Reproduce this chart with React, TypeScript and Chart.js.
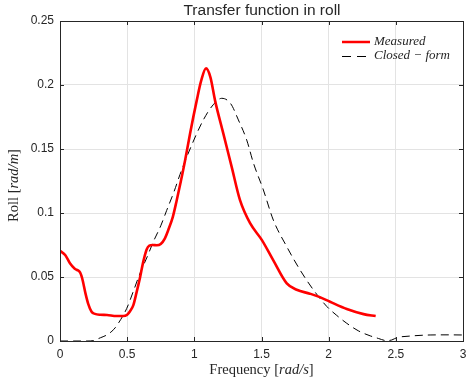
import React, { useEffect, useRef } from "react";
import { Chart, registerables } from "chart.js";

Chart.register(...registerables);

const measuredX = [0, 0.04, 0.074, 0.11, 0.136, 0.15, 0.165, 0.19, 0.21, 0.235, 0.26, 0.3, 0.35, 0.42, 0.47, 0.5, 0.52, 0.546, 0.57, 0.596, 0.62, 0.645, 0.665, 0.69, 0.72, 0.75, 0.78, 0.806, 0.84, 0.869, 0.9, 0.931, 0.968, 1.018, 1.05, 1.087, 1.12, 1.154, 1.216, 1.278, 1.34, 1.415, 1.502, 1.588, 1.688, 1.762, 1.86, 1.93, 2.01, 2.135, 2.26, 2.35];
const measuredY = [0.0705, 0.067, 0.0607, 0.0565, 0.055, 0.0535, 0.049, 0.037, 0.029, 0.0228, 0.0212, 0.0205, 0.0203, 0.0195, 0.0195, 0.0205, 0.023, 0.028, 0.038, 0.0497, 0.062, 0.0715, 0.0745, 0.075, 0.0748, 0.0758, 0.08, 0.0867, 0.097, 0.11, 0.125, 0.141, 0.162, 0.188, 0.203, 0.213, 0.206, 0.188, 0.162, 0.136, 0.11, 0.092, 0.079, 0.063, 0.045, 0.04, 0.037, 0.0345, 0.0307, 0.025, 0.021, 0.0195];

const closedX = [0, 0.1, 0.2, 0.25, 0.273, 0.3, 0.348, 0.4, 0.434, 0.497, 0.55, 0.596, 0.65, 0.695, 0.75, 0.794, 0.85, 0.893, 0.968, 1.067, 1.14, 1.204, 1.27, 1.328, 1.39, 1.44, 1.514, 1.588, 1.688, 1.787, 1.886, 1.986, 2.06, 2.135, 2.22, 2.31, 2.37, 2.43, 2.47, 2.507, 2.6, 2.755, 2.9, 3];
const closedY = [0, 0, 0, 0.0003, 0.0013, 0.0025, 0.0047, 0.009, 0.0138, 0.0255, 0.04, 0.053, 0.066, 0.0776, 0.09, 0.102, 0.117, 0.13, 0.15, 0.1727, 0.1845, 0.1896, 0.1855, 0.1727, 0.157, 0.139, 0.118, 0.0945, 0.0737, 0.0555, 0.04, 0.027, 0.02, 0.0138, 0.008, 0.004, 0.002, 0.0003, 0.0008, 0.0026, 0.0038, 0.0047, 0.0048, 0.0047];

const xTicks = [0, 0.5, 1, 1.5, 2, 2.5, 3];
const xTickLabels = ["0", "0.5", "1", "1.5", "2", "2.5", "3"];
const yTicks = [0, 0.05, 0.1, 0.15, 0.2, 0.25];
const yTickLabels = ["0", "0.05", "0.1", "0.15", "0.2", "0.25"];

const titleText = "Transfer function in roll";
const legendLabels = ["Measured", "Closed \u2212 form"];

const TEXT = "#262626";
const SERIF = "'Liberation Serif', 'DejaVu Serif', serif";
const SANS = "'Liberation Sans', Arial, sans-serif";
const DASH = [8, 5];

const overlay = {
  id: "overlay",
  afterDraw(chart: any) {
    const ctx = chart.ctx;
    const { left, right, top, bottom } = chart.chartArea;
    const xs = chart.scales.x;
    const ys = chart.scales.y;
    ctx.save();
    ctx.strokeStyle = "#262626";
    ctx.lineWidth = 1;
    ctx.strokeRect(Math.round(left) + 0.5, Math.round(top) + 0.5, Math.round(right - left), Math.round(bottom - top));
    ctx.beginPath();
    xTicks.forEach((v) => {
      const px = Math.round(xs.getPixelForValue(v)) + 0.5;
      ctx.moveTo(px, bottom);
      ctx.lineTo(px, bottom - 4);
      ctx.moveTo(px, top);
      ctx.lineTo(px, top + 4);
    });
    yTicks.forEach((v) => {
      const py = Math.round(ys.getPixelForValue(v)) + 0.5;
      ctx.moveTo(left, py);
      ctx.lineTo(left + 4, py);
      ctx.moveTo(right, py);
      ctx.lineTo(right - 4, py);
    });
    ctx.stroke();
    ctx.fillStyle = TEXT;
    ctx.font = `12px ${SANS}`;
    ctx.textAlign = "center";
    ctx.textBaseline = "middle";
    xTicks.forEach((v, i) => {
      ctx.fillText(xTickLabels[i], xs.getPixelForValue(v), bottom + 14);
    });
    ctx.textAlign = "right";
    yTicks.forEach((v, i) => {
      ctx.fillText(yTickLabels[i], left - 6, ys.getPixelForValue(v));
    });
    ctx.font = `15.5px ${SANS}`;
    ctx.textAlign = "center";
    ctx.fillText(titleText, 262, 11);
    const drawMixed = (parts: [string, string][], cx: number, cy: number) => {
      let total = 0;
      parts.forEach(([t, f]) => {
        ctx.font = f;
        total += ctx.measureText(t).width;
      });
      let x = cx - total / 2;
      ctx.textAlign = "left";
      parts.forEach(([t, f]) => {
        ctx.font = f;
        ctx.fillText(t, x, cy);
        x += ctx.measureText(t).width;
      });
    };
    const up = `14.5px ${SERIF}`;
    const it = `italic 14.5px ${SERIF}`;
    drawMixed([["Frequency ", up], ["[", up], ["rad/s", it], ["]", up]], 261.5, 370);
    ctx.save();
    ctx.translate(14, 185.5);
    ctx.rotate(-Math.PI / 2);
    drawMixed([["Roll ", up], ["[", up], ["rad/m", it], ["]", up]], 0, 0);
    ctx.restore();
    ctx.textAlign = "left";
    ctx.font = `italic 13px ${SERIF}`;
    ctx.strokeStyle = "#ff0000";
    ctx.lineWidth = 2.5;
    ctx.setLineDash([]);
    ctx.beginPath();
    ctx.moveTo(342, 42);
    ctx.lineTo(370, 42);
    ctx.stroke();
    ctx.fillText(legendLabels[0], 374, 42);
    ctx.strokeStyle = "#000000";
    ctx.lineWidth = 1;
    ctx.setLineDash([9, 6]);
    ctx.beginPath();
    ctx.moveTo(342, 56.5);
    ctx.lineTo(370, 56.5);
    ctx.stroke();
    ctx.setLineDash([]);
    ctx.fillText(legendLabels[1], 374, 56);
    ctx.restore();
  },
};

export default function App() {
  const ref = useRef<HTMLCanvasElement | null>(null);
  useEffect(() => {
    document.body.style.margin = "0";
    const canvas = ref.current;
    if (!canvas) return;
    const chart = new Chart(canvas, {
      type: "line",
      data: {
        datasets: [
          {
            label: legendLabels[0],
            data: measuredX.map((x, i) => ({ x, y: measuredY[i] })),
            borderColor: "#ff0000",
            borderWidth: 2.6,
            pointRadius: 0,
            cubicInterpolationMode: "monotone",
            fill: false,
          },
          {
            label: legendLabels[1],
            data: closedX.map((x, i) => ({ x, y: closedY[i] })),
            borderColor: "#000000",
            borderWidth: 1,
            borderDash: DASH,
            pointRadius: 0,
            cubicInterpolationMode: "monotone",
            fill: false,
          },
        ],
      },
      options: {
        animation: false,
        responsive: false,
        maintainAspectRatio: false,
        layout: { padding: { left: 0, right: 3, top: 21, bottom: 0 } },
        plugins: { legend: { display: false }, tooltip: { enabled: false } },
        scales: {
          x: {
            type: "linear",
            min: 0,
            max: 3,
            afterBuildTicks: (s: any) => {
              s.ticks = xTicks.map((v) => ({ value: v }));
            },
            afterFit: (s: any) => {
              s.height = 43;
            },
            ticks: { display: false },
            border: { display: false },
            grid: { color: "#e3e3e3", drawTicks: false, lineWidth: 1 },
          },
          y: {
            type: "linear",
            min: 0,
            max: 0.25,
            afterBuildTicks: (s: any) => {
              s.ticks = yTicks.map((v) => ({ value: v }));
            },
            afterFit: (s: any) => {
              s.width = 60;
            },
            ticks: { display: false },
            border: { display: false },
            grid: { color: "#e3e3e3", drawTicks: false, lineWidth: 1 },
          },
        },
      },
      plugins: [overlay],
    } as any);
    return () => chart.destroy();
  }, []);
  return (
    <div style={{ width: 466, height: 384, background: "#ffffff" }}>
      <canvas ref={ref} width={466} height={384} style={{ width: 466, height: 384, display: "block" }} />
    </div>
  );
}
